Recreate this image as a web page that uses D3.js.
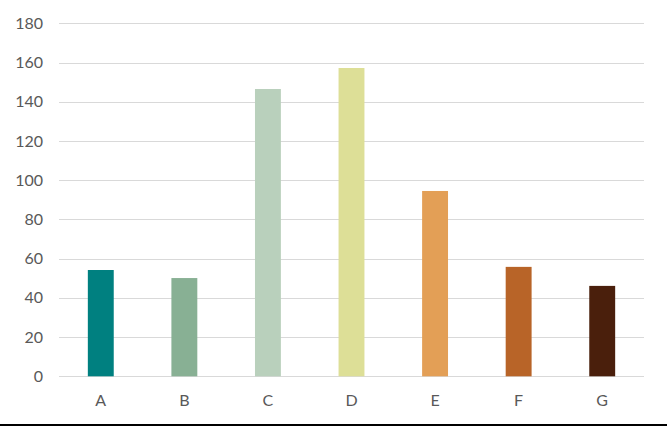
<!DOCTYPE html>
<html>
<head>
<meta charset="utf-8">
<script src="https://cdn.jsdelivr.net/npm/d3@7"></script>
<style>
  body { margin: 0; background: #fff; }
  svg { display: block; font-family: Lato, "Open Sans", sans-serif; }
</style>
</head>
<body>
<div id="chart"></div>
<script>
// chart data
const categories = ['A', 'B', 'C', 'D', 'E', 'F', 'G'];
const values = [54.2, 50.1, 146.5, 157.2, 94.5, 55.8, 46.1];
const barColors = ['#008080', '#88B094', '#B9D0BC', '#DDDF97', '#E39F56', '#B86428', '#4A1F0C'];
const yTicks = [0, 20, 40, 60, 80, 100, 120, 140, 160, 180];

const width = 667, height = 426;
const margin = { top: 23.3, right: 23, bottom: 49.7, left: 59 };

const svg = d3.select('#chart').append('svg')
    .attr('width', width)
    .attr('height', height);

const x = d3.scaleBand()
    .domain(categories)
    .range([margin.left, width - margin.right])
    .paddingInner(0.69)
    .paddingOuter(0.345);

const y = d3.scaleLinear()
    .domain([0, 180])
    .range([height - margin.bottom, margin.top]);

// gridlines
svg.append('g')
    .selectAll('line')
    .data(yTicks)
    .enter()
    .append('line')
    .attr('x1', margin.left)
    .attr('x2', width - margin.right)
    .attr('y1', d => Math.round(y(d)) + 0.5)
    .attr('y2', d => Math.round(y(d)) + 0.5)
    .attr('stroke', '#D9D9D9')
    .attr('stroke-width', 1);

// y axis labels
const yAxis = svg.append('g')
    .attr('transform', `translate(${margin.left - 16},0)`)
    .call(d3.axisLeft(y).tickValues(yTicks).tickSize(0).tickPadding(0));
yAxis.select('.domain').remove();
yAxis.selectAll('text')
    .attr('fill', '#595959')
    .attr('font-size', '16px')
    .attr('font-family', 'Lato, "Open Sans", sans-serif');

// bars
svg.append('g')
    .selectAll('rect')
    .data(categories)
    .enter()
    .append('rect')
    .attr('x', d => x(d))
    .attr('width', x.bandwidth())
    .attr('y', (d, i) => y(values[i]))
    .attr('height', (d, i) => y(0) - y(values[i]))
    .attr('fill', (d, i) => barColors[i]);

// x axis labels
const xAxis = svg.append('g')
    .attr('transform', `translate(0,${height - margin.bottom})`)
    .call(d3.axisBottom(x).tickSize(0).tickPadding(18));
xAxis.select('.domain').remove();
xAxis.selectAll('text')
    .attr('fill', '#595959')
    .attr('font-size', '16px')
    .attr('font-family', 'Lato, "Open Sans", sans-serif');

// bottom border
svg.append('rect')
    .attr('x', 0)
    .attr('y', 424)
    .attr('width', width)
    .attr('height', 2)
    .attr('fill', '#000');
</script>
</body>
</html>
